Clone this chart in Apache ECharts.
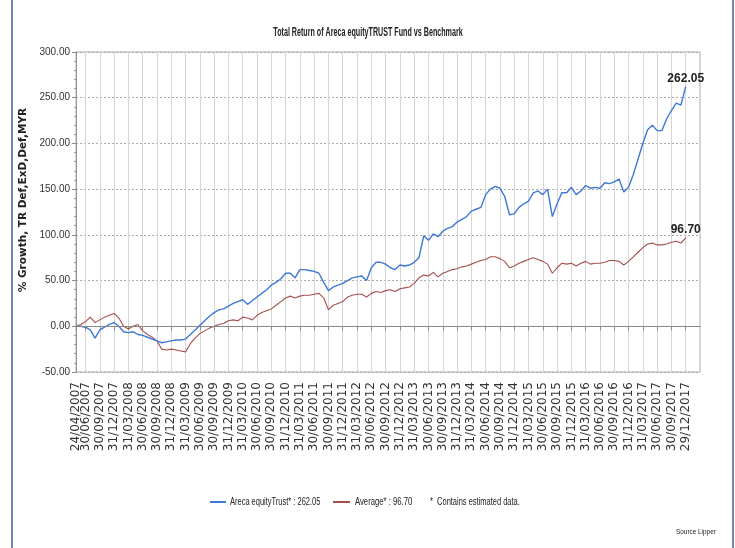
<!DOCTYPE html>
<html>
<head>
<meta charset="utf-8">
<title>Total Return of Areca equityTRUST Fund vs Benchmark</title>
<script src="https://cdn.jsdelivr.net/npm/echarts@6/dist/echarts.min.js"></script>
<style>
  html, body { margin: 0; padding: 0; background: #fff; }
  #chart { width: 735px; height: 548px; }
</style>
</head>
<body>
<div id="chart"></div>
<script>
// quarter-end tick labels shown under the x axis
var tickLabels = [
  '24/04/2007', '30/06/2007', '30/09/2007', '31/12/2007',
  '31/03/2008', '30/06/2008', '30/09/2008', '31/12/2008',
  '31/03/2009', '30/06/2009', '30/09/2009', '31/12/2009',
  '31/03/2010', '30/06/2010', '30/09/2010', '31/12/2010',
  '31/03/2011', '30/06/2011', '30/09/2011', '31/12/2011',
  '31/03/2012', '30/06/2012', '30/09/2012', '31/12/2012',
  '31/03/2013', '30/06/2013', '30/09/2013', '31/12/2013',
  '31/03/2014', '30/06/2014', '30/09/2014', '31/12/2014',
  '31/03/2015', '30/06/2015', '30/09/2015', '31/12/2015',
  '31/03/2016', '30/06/2016', '30/09/2016', '31/12/2016',
  '31/03/2017', '30/06/2017', '30/09/2017', '29/12/2017'
];

// monthly readings, Apr 2007 .. Dec 2017 (% growth)
var fundValues = [
  0, 0, -1, -4, -13, -4, -1, 2, 4, 0,
  -6, -7, -6, -9, -10, -12, -14, -16, -18, -17,
  -16, -15, -15, -14, -9, -4, 1, 6, 11, 15,
  18, 19, 22, 25, 27, 29, 24, 28, 32, 36,
  40, 45, 48, 52, 58, 58, 53, 62, 62, 61,
  60, 58, 48, 39, 43, 45, 47, 50, 53, 54,
  55, 50, 64, 70, 70, 68, 64, 62, 67, 66,
  67, 70, 75, 99, 94, 101, 98, 104, 107, 109,
  114, 117, 120, 126, 128, 130, 144, 150, 153, 151,
  142, 122, 123, 130, 134, 137, 146, 148, 144, 150,
  120, 134, 146, 146, 152, 144, 148, 154, 151, 152,
  151, 157, 156, 158, 161, 147, 152, 166, 183, 200,
  215, 220, 214, 214, 227, 236, 244, 242, 262.05
];
var averageValues = [
  0, 2, 5, 10, 4, 7, 10, 12, 14, 9,
  0, -3, 0, 2, -5, -9, -12, -16, -25, -26,
  -25, -26, -27, -28, -19, -13, -8, -5, -2, 0,
  2, 3, 6, 7, 6, 10, 9, 7, 12, 15,
  17, 19, 23, 27, 31, 33, 31, 33, 34, 34,
  35, 36, 31, 18, 23, 25, 27, 32, 34, 35,
  35, 32, 36, 38, 37, 39, 40, 38, 41, 42,
  43, 47, 53, 56, 55, 59, 54, 58, 60, 62,
  63, 65, 66, 68, 70, 72, 73, 76, 76, 74,
  71, 64, 66, 69, 71, 73, 75, 73, 71, 68,
  58, 64, 69, 68, 69, 66, 69, 71, 68, 69,
  69, 70, 72, 72, 71, 67, 71, 76, 81, 86,
  90, 91, 89, 89, 90, 92, 93, 91, 96.70
];
var seriesNames = ['Areca equityTrust* : 262.05', 'Average* : 96.70'];
var endLabels = ['262.05', '96.70'];
var colors = ['#3f78d6', '#a5504b'];

// month-end categories, plus a few empty months after the last reading
var months = [];
(function () {
  var y = 2007, m = 4;
  for (var i = 0; i < 132; i++) {
    var last = new Date(y, m, 0).getDate();
    var d = (i === 0) ? 24 : (y === 2017 && m === 12 ? 29 : last);
    months.push((d < 10 ? '0' : '') + d + '/' + (m < 10 ? '0' : '') + m + '/' + y);
    m++;
    if (m > 12) { m = 1; y++; }
  }
})();

function isTick(index, value) {
  return tickLabels.indexOf(value) >= 0;
}
// the first date sits too close to the next one, so it gets its own axis
function isQuarter(index, value) {
  return index > 0 && isTick(index, value);
}
function isFirst(index) {
  return index === 0;
}

var sans = 'Liberation Sans, Arial, sans-serif';
var dateLabel = {
  rotate: 90, margin: 10, hideOverlap: false, showMinLabel: true,
  fontFamily: 'DejaVu Sans, sans-serif', fontSize: 12, color: '#333'
};

function withEndLabel(arr, text) {
  var out = arr.slice();
  out[out.length - 1] = {
    value: arr[arr.length - 1],
    label: {
      show: true, position: 'top', distance: 2, formatter: text,
      fontFamily: sans, fontWeight: 'bold', fontSize: 12, color: '#222'
    }
  };
  return out;
}

// condensed text (the original uses a narrow face)
function narrowText(x, y, text, size, weight, scale, align) {
  return {
    type: 'text', x: x, y: y, scaleX: scale,
    style: {
      text: text, font: (weight || 'normal') + ' ' + size + 'px ' + sans,
      fill: '#222', align: align || 'left', verticalAlign: 'middle'
    }
  };
}

var myChart = echarts.init(document.getElementById('chart'));
var option = {
  backgroundColor: '#fff',
  animation: false,
  grid: { left: 76, right: 35, top: 52, bottom: 176, show: true, borderColor: '#aaa', borderWidth: 1 },
  xAxis: [{
    type: 'category',
    boundaryGap: false,
    data: months,
    axisLine: { lineStyle: { color: '#999' } },
    axisTick: { interval: isTick, length: 4, lineStyle: { color: '#888' } },
    axisLabel: Object.assign({ interval: isQuarter }, dateLabel),
    splitLine: { show: true, interval: isTick, lineStyle: { color: '#d6d6d6', width: 1 } }
  }, {
    type: 'category',
    position: 'bottom',
    boundaryGap: false,
    data: months,
    axisLine: { show: false },
    axisTick: { show: false },
    axisLabel: Object.assign({ interval: isFirst }, dateLabel),
    splitLine: { show: false }
  }],
  yAxis: {
    type: 'value',
    min: -50, max: 300, interval: 50,
    name: '% Growth, TR Def,ExD,Def,MYR',
    nameLocation: 'middle', nameGap: 32,
    nameTextStyle: {
      fontFamily: 'DejaVu Sans, sans-serif', fontWeight: 'bold', fontSize: 10.5, color: '#222',
      padding: [0, 0, 0, 24]
    },
    axisLine: { show: true, lineStyle: { color: '#999' } },
    axisTick: { show: true, length: 4, lineStyle: { color: '#888' } },
    minorTick: { show: true, splitNumber: 5, length: 2, lineStyle: { color: '#999' } },
    axisLabel: {
      formatter: function (v) { return v.toFixed(2); },
      fontFamily: sans, fontSize: 10, color: '#333', margin: 6
    },
    splitLine: { show: true, lineStyle: { color: '#aaa', type: [2, 2], width: 1 } }
  },
  series: [{
    name: seriesNames[0],
    type: 'line',
    data: withEndLabel(fundValues, endLabels[0]),
    showSymbol: true,
    showAllSymbol: true,
    symbol: 'circle',
    symbolSize: 0,
    color: colors[0],
    lineStyle: { width: 1.4, color: colors[0] },
    markLine: {
      silent: true, symbol: 'none', label: { show: false },
      lineStyle: { color: '#888', type: 'solid', width: 1.2 },
      data: [{ yAxis: 0 }]
    },
    z: 3
  }, {
    name: seriesNames[1],
    type: 'line',
    data: withEndLabel(averageValues, endLabels[1]),
    showSymbol: true,
    showAllSymbol: true,
    symbol: 'circle',
    symbolSize: 0,
    color: colors[1],
    lineStyle: { width: 1.1, color: colors[1] },
    z: 2
  }],
  graphic: [
    narrowText(368, 32, 'Total Return of Areca equityTRUST Fund vs Benchmark', 13, 'bold', 0.55, 'center'),
    { type: 'line', shape: { x1: 210, y1: 502, x2: 226, y2: 502 }, style: { stroke: colors[0], lineWidth: 2 } },
    narrowText(230, 502, seriesNames[0], 11, 'normal', 0.68),
    { type: 'line', shape: { x1: 333, y1: 502, x2: 350, y2: 502 }, style: { stroke: colors[1], lineWidth: 2 } },
    narrowText(355, 502, seriesNames[1], 11, 'normal', 0.7),
    narrowText(430, 502, '*  Contains estimated data.', 11, 'normal', 0.68),
    narrowText(676, 532, 'Source Lipper', 8, 'normal', 0.8),
    { type: 'line', shape: { x1: 12, y1: 0, x2: 12, y2: 548 }, style: { stroke: '#3b5ea6', lineWidth: 1.5 } },
    { type: 'line', shape: { x1: 733, y1: 0, x2: 733, y2: 548 }, style: { stroke: '#3b5ea6', lineWidth: 1.5 } }
  ]
};
myChart.setOption(option);
</script>
</body>
</html>
